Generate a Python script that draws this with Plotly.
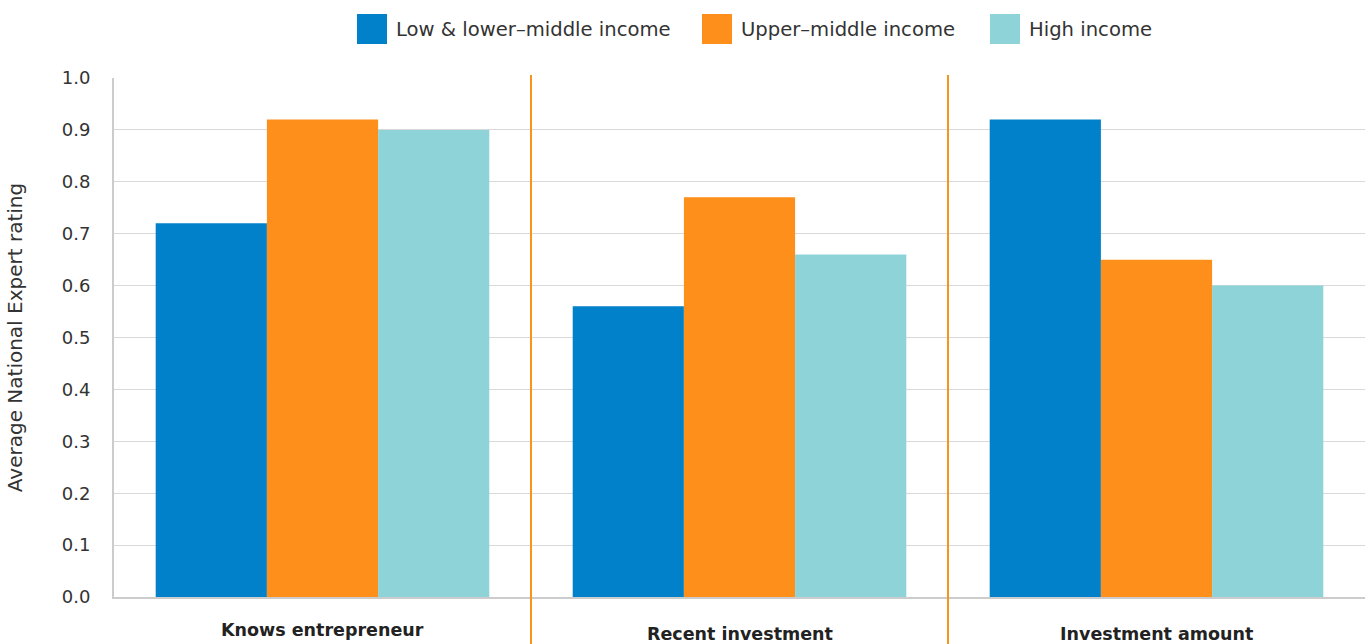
import plotly.graph_objects as go

categories = ["Knows entrepreneur", "Recent investment", "Investment amount"]
series_names = ["Low & lower\u2013middle income", "Upper\u2013middle income", "High income"]
low_lower_middle = [0.72, 0.56, 0.92]
upper_middle = [0.92, 0.77, 0.65]
high_income = [0.90, 0.66, 0.60]
y_ticks = [0.0, 0.1, 0.2, 0.3, 0.4, 0.5, 0.6, 0.7, 0.8, 0.9, 1.0]
label_offsets = [0, -4, -4]

colors = ["#0281CB", "#FD8F1A", "#8DD3D7"]
font_family = "DejaVu Sans, sans-serif"

W, H = 1366, 644
ML, MR, MT, MB = 114, 1, 78, 47
PW, PH = W - ML - MR, H - MT - MB


def px_x(px):
    return (px - ML) / PW


def px_y(py):
    return (H - MB - py) / PH


fig = go.Figure()
for name, vals, col in zip(series_names, [low_lower_middle, upper_middle, high_income], colors):
    fig.add_trace(go.Bar(x=categories, y=vals, name=name, showlegend=False,
                         marker=dict(color=col, line=dict(width=0))))

shapes = []
for i in range(len(categories) - 1):
    shapes.append(dict(type="line", xref="x", yref="paper", x0=i + 0.5, x1=i + 0.5,
                       y0=-0.2, y1=1.006, line=dict(color="#F7941D", width=2)))

annotations = []
for cat, off in zip(categories, label_offsets):
    annotations.append(dict(x=cat, xref="x", y=0, yref="paper", yanchor="top", yshift=-21 + off,
                            text="<b>" + cat + "</b>", showarrow=False,
                            font=dict(size=17.5, color="#222222", family=font_family)))

# legend drawn as swatches + text along the top
legend_swatch_left = [357, 702, 990]
for name, col, sx in zip(series_names, colors, legend_swatch_left):
    shapes.append(dict(type="rect", xref="paper", yref="paper",
                       x0=px_x(sx), x1=px_x(sx + 30), y0=px_y(44), y1=px_y(14),
                       fillcolor=col, line=dict(width=0), layer="above"))
    annotations.append(dict(x=px_x(sx + 37), y=px_y(29), xref="paper", yref="paper",
                            xanchor="left", yanchor="middle", showarrow=False, text=name,
                            font=dict(size=19.6, color="#333333", family=font_family)))

fig.update_layout(
    width=W, height=H,
    margin=dict(l=ML, r=MR, t=MT, b=MB),
    paper_bgcolor="white", plot_bgcolor="white",
    barmode="group", bargap=0.2, bargroupgap=0,
    showlegend=False,
    font=dict(family=font_family, color="#333333", size=17),
    shapes=shapes,
    annotations=annotations,
    xaxis=dict(showticklabels=False, showline=True, linecolor="#CCCCCC", linewidth=2,
               showgrid=False, ticks="", automargin=False, range=[-0.5, 2.5]),
    yaxis=dict(range=[0, 1.0], tickvals=y_ticks, ticktext=[f"{v:.1f}" for v in y_ticks],
               showgrid=True, gridcolor="#D9D9D9", gridwidth=1, showline=True, linecolor="#CCCCCC",
               linewidth=2, zeroline=False, ticks="", ticklabelstandoff=18, automargin=False,
               title=dict(text="Average National Expert rating", font=dict(size=20, color="#333333"), standoff=34),
               tickfont=dict(size=18, color="#333333")),
)

fig.write_html("out.html", config={"displayModeBar": False},
               post_script="document.body.style.margin='0';document.body.style.overflow='hidden';")
